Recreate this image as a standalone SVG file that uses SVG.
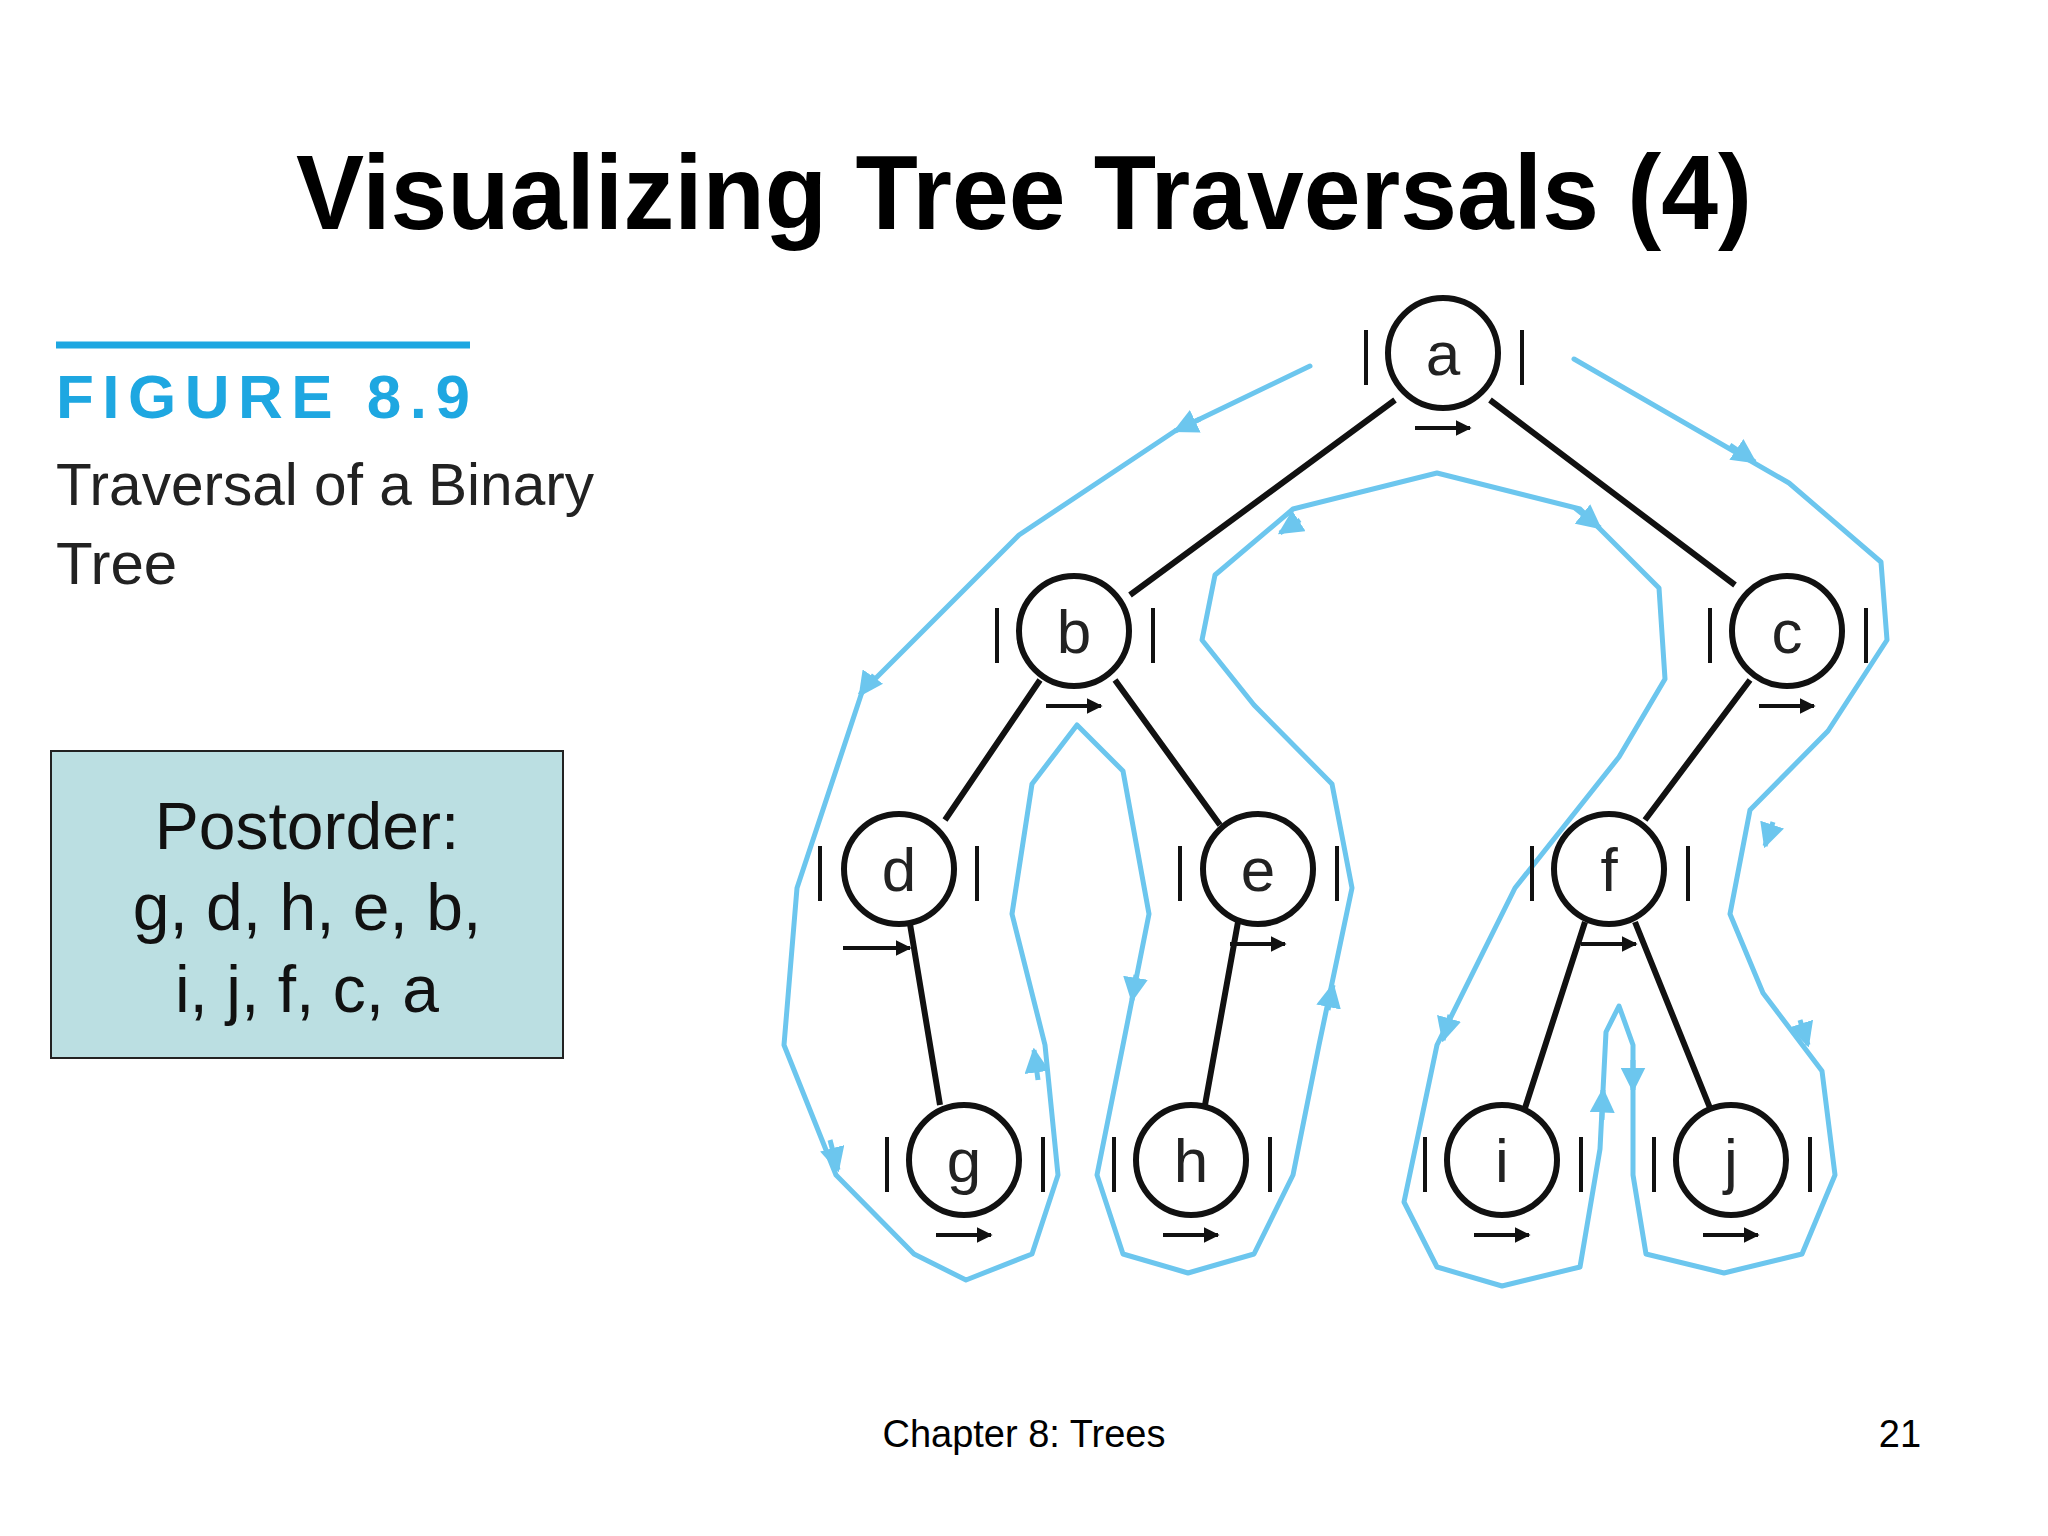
<svg xmlns="http://www.w3.org/2000/svg" width="2048" height="1536" viewBox="0 0 2048 1536">
<style>
.node circle{fill:#fff;stroke:#111;stroke-width:6}
.node text{font-family:"Liberation Sans",Arial,sans-serif;font-size:62px;fill:#222;text-anchor:middle}
.edge{stroke:#111;stroke-width:6;fill:none}
.sa{stroke:#111;stroke-width:4;fill:none;marker-end:url(#bk)}
.trav{stroke:#6cc6ee;stroke-width:5;fill:none;stroke-linejoin:round;stroke-linecap:round}
.ta{stroke:#6cc6ee;stroke-width:5;fill:none;marker-end:url(#bl)}
</style>
<defs>
<marker id="bk" viewBox="0 0 10 10" refX="9" refY="5" markerWidth="4" markerHeight="4" orient="auto"><path d="M0,0 L10,5 L0,10z" fill="#111"/></marker>
<marker id="bl" viewBox="0 0 10 10" refX="9" refY="5" markerWidth="5" markerHeight="5" orient="auto"><path d="M0,0 L10,5 L0,10z" fill="#6cc6ee"/></marker>
</defs>
<rect width="2048" height="1536" fill="#fff"/>
<text x="1024" y="229" font-family="'Liberation Sans',Arial,sans-serif" font-weight="bold" font-size="106" text-anchor="middle" textLength="1456" lengthAdjust="spacingAndGlyphs">Visualizing Tree Traversals (4)</text>
<line x1="56" y1="345" x2="470" y2="345" stroke="#1ea7e1" stroke-width="7"/>
<text x="56" y="418" font-family="'Liberation Sans',Arial,sans-serif" font-weight="bold" font-size="62" fill="#1ea7e1" textLength="414" lengthAdjust="spacing">FIGURE 8.9</text>
<text font-family="'Liberation Sans',Arial,sans-serif" font-size="60" fill="#222"><tspan x="56" y="505" textLength="538" lengthAdjust="spacingAndGlyphs">Traversal of a Binary</tspan><tspan x="56" y="584">Tree</tspan></text>
<rect x="51" y="751" width="512" height="307" fill="#bbdfe2" stroke="#222" stroke-width="2"/>
<text font-family="'Liberation Sans',Arial,sans-serif" font-size="66" text-anchor="middle" fill="#111"><tspan x="307" y="849">Postorder:</tspan><tspan x="307" y="930">g, d, h, e, b,</tspan><tspan x="307" y="1012">i, j, f, c, a</tspan></text>
<text x="1024" y="1447" font-family="'Liberation Sans',Arial,sans-serif" font-size="38" text-anchor="middle">Chapter 8: Trees</text>
<text x="1900" y="1447" font-family="'Liberation Sans',Arial,sans-serif" font-size="38" text-anchor="middle">21</text>
<g id="connectors">
<path class="edge" d="M1395,400 L1130,595 M1490,400 L1735,585 M1040,680 L945,820 M1115,680 L1220,825 M1750,680 L1645,820 M910,924 L940,1105 M1238,922 L1205,1105 M1585,922 L1525,1108 M1635,922 L1710,1108"/>
<polyline class="trav" points="1310,366 1175,431 1019,535 862,692 797,888 784,1045 836,1175 914,1254 966,1280 1032,1254 1058,1175 1045,1045 1012,914 1032,784 1077,725 1123,771 1149,914 1123,1045 1097,1175 1123,1254 1188,1273 1254,1254 1293,1175 1319,1045 1352,888 1332,784 1254,705 1202,640 1215,575 1293,509 1437,473 1580,509 1659,588 1665,679 1619,757 1515,888 1437,1045 1404,1202 1437,1267 1502,1286 1580,1267 1600,1149 1606,1032 1619,1006 1633,1045 1633,1175 1646,1254 1724,1273 1802,1254 1835,1175 1822,1071 1763,993 1730,914 1750,810 1828,731 1887,640 1881,562 1789,483 1574,359"/>
<path class="ta" d="M1200,419 L1175,431"/>
<path class="ta" d="M874,675 L860,695"/>
<path class="ta" d="M830,1140 L838,1170"/>
<path class="ta" d="M1038,1080 L1034,1050"/>
<path class="ta" d="M1136,975 L1132,1000"/>
<path class="ta" d="M1328,1010 L1333,985"/>
<path class="ta" d="M1300,520 L1280,533"/>
<path class="ta" d="M1575,508 L1600,528"/>
<path class="ta" d="M1450,1015 L1443,1040"/>
<path class="ta" d="M1602,1120 L1603,1090"/>
<path class="ta" d="M1633,1060 L1633,1090"/>
<path class="ta" d="M1800,1020 L1808,1045"/>
<path class="ta" d="M1773,822 L1765,846"/>
<path class="ta" d="M1730,445 L1755,462"/>
</g>
<g id="a" class="node"><circle cx="1443" cy="353" r="55"/><text x="1443" y="375">a</text></g>
<g id="b" class="node"><circle cx="1074" cy="631" r="55"/><text x="1074" y="653">b</text></g>
<g id="c" class="node"><circle cx="1787" cy="631" r="55"/><text x="1787" y="653">c</text></g>
<g id="d" class="node"><circle cx="899" cy="869" r="55"/><text x="899" y="891">d</text></g>
<g id="e" class="node"><circle cx="1258" cy="869" r="55"/><text x="1258" y="891">e</text></g>
<g id="f" class="node"><circle cx="1609" cy="869" r="55"/><text x="1609" y="891">f</text></g>
<g id="g" class="node"><circle cx="964" cy="1160" r="55"/><text x="964" y="1182">g</text></g>
<g id="h" class="node"><circle cx="1191" cy="1160" r="55"/><text x="1191" y="1182">h</text></g>
<g id="i" class="node"><circle cx="1502" cy="1160" r="55"/><text x="1502" y="1182">i</text></g>
<g id="j" class="node"><circle cx="1731" cy="1160" r="55"/><text x="1731" y="1182">j</text></g>
<g id="small-arrows">
<path class="sa" d="M1366,330 L1366,385 M1522,385 L1522,330 M1415,428 L1470,428"/>
<path class="sa" d="M997,608 L997,663 M1153,663 L1153,608 M1046,706 L1101,706"/>
<path class="sa" d="M1710,608 L1710,663 M1866,663 L1866,608 M1759,706 L1814,706"/>
<path class="sa" d="M820,846 L820,901 M977,901 L977,846 M843,948 L910,948"/>
<path class="sa" d="M1180,846 L1180,901 M1337,901 L1337,846 M1230,944 L1285,944"/>
<path class="sa" d="M1532,846 L1532,901 M1688,901 L1688,846 M1581,944 L1636,944"/>
<path class="sa" d="M887,1137 L887,1192 M1043,1192 L1043,1137 M936,1235 L991,1235"/>
<path class="sa" d="M1114,1137 L1114,1192 M1270,1192 L1270,1137 M1163,1235 L1218,1235"/>
<path class="sa" d="M1425,1137 L1425,1192 M1581,1192 L1581,1137 M1474,1235 L1529,1235"/>
<path class="sa" d="M1654,1137 L1654,1192 M1810,1192 L1810,1137 M1703,1235 L1758,1235"/>
</g>
</svg>
